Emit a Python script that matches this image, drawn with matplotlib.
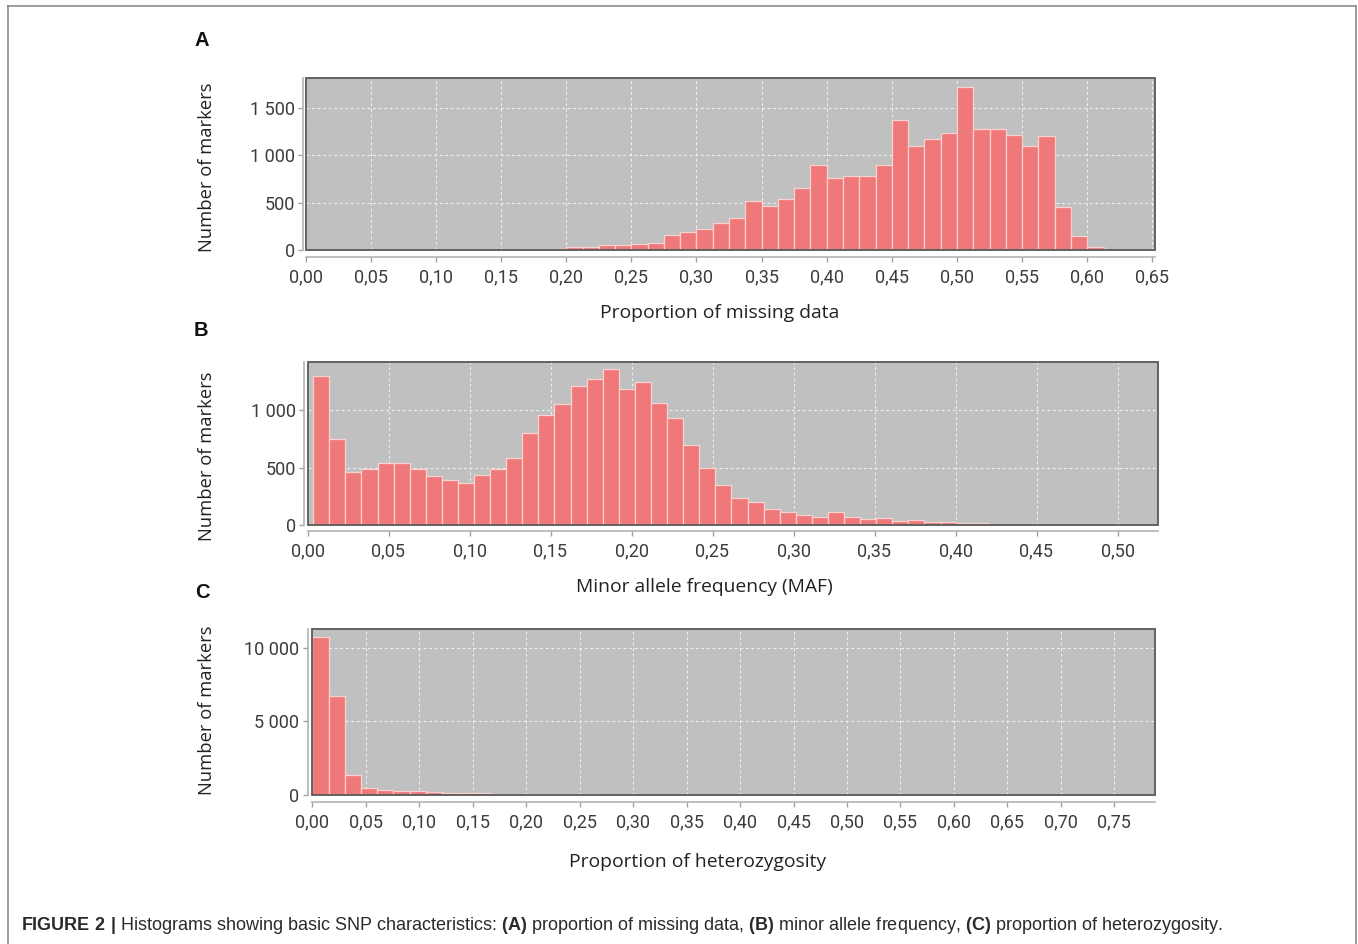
import numpy as np
import matplotlib
matplotlib.use("Agg")
import matplotlib.pyplot as plt
from matplotlib.ticker import FuncFormatter
from matplotlib.lines import Line2D
from matplotlib.patches import Rectangle

# ---- data (counts per histogram bin) ----
missing_bin_start = 0.0
missing_bin_width = 0.0125
missing_counts = [3, 1, 0, 6, 1, 1, 0, 2, 1, 2, 3, 4,
                  5, 15, 15, 15, 30, 28, 50, 50, 60, 75, 160, 185,
                  220, 290, 335, 520, 470, 535, 650, 895, 765, 785, 780, 900,
                  1375, 1095, 1170, 1240, 1725, 1275, 1280, 1220, 1100, 1205,
                  455, 150, 28, 3, 0, 0]

maf_bin_start = 0.0035
maf_bin_width = 0.00993
maf_counts = [1297, 752, 466, 487, 539, 539, 490, 428, 397, 370,
              434, 490, 583, 799, 959, 1058, 1216, 1274, 1359, 1184,
              1245, 1064, 933, 700, 496, 347, 239, 204, 137, 114,
              87, 73, 111, 70, 50, 58, 38, 44, 26, 23,
              17, 15, 12, 12, 12, 9, 9, 12, 9, 9]

het_bin_start = 0.0
het_bin_width = 0.01515
het_counts = [10730, 6700, 1365, 450, 340, 250, 250, 205, 135, 115,
              90, 50, 45, 35, 30, 25, 20, 15, 12, 10,
              8, 6, 5, 4, 3, 3, 2, 2, 2, 1,
              1, 1, 1, 0, 0, 0, 0, 0, 0, 0,
              0, 0, 0, 0, 0, 0, 0, 0, 0, 0, 0, 0]

missing_xticks = [0.00, 0.05, 0.10, 0.15, 0.20, 0.25, 0.30, 0.35, 0.40, 0.45, 0.50, 0.55, 0.60, 0.65]
maf_xticks = [0.00, 0.05, 0.10, 0.15, 0.20, 0.25, 0.30, 0.35, 0.40, 0.45, 0.50]
het_xticks = [0.00, 0.05, 0.10, 0.15, 0.20, 0.25, 0.30, 0.35, 0.40, 0.45, 0.50,
              0.55, 0.60, 0.65, 0.70, 0.75]
missing_yticks = [0, 500, 1000, 1500]
maf_yticks = [0, 500, 1000]
het_yticks = [0, 5000, 10000]

xlabels = ["Proportion of missing data", "Minor allele frequency (MAF)",
           "Proportion of heterozygosity"]
ylabel = "Number of markers"
panel_letters = ["A", "B", "C"]

caption = (r"$\mathbf{FIGURE\ 2\ |}$ Histograms showing basic SNP characteristics: "
           r"$\mathbf{(A)}$ proportion of missing data, $\mathbf{(B)}$ minor allele frequency, "
           r"$\mathbf{(C)}$ proportion of heterozygosity.")

# ---- style ----
W, H = 1358, 944
TICK_FONT = ["Roboto", "DejaVu Sans"]
TITLE_FONT = ["Open Sans", "DejaVu Sans"]
BAR = "#ef7878"
BAR_EDGE = "#fbd2d2"
BG = "#c0c0c0"

plt.rcParams["mathtext.fontset"] = "custom"
plt.rcParams["mathtext.rm"] = "Liberation Sans"
plt.rcParams["mathtext.bf"] = "Liberation Sans:bold"

fig = plt.figure(figsize=(W / 100, H / 100), dpi=100)


def px_axes(left, top, right, bottom):
    return fig.add_axes([left / W, 1 - bottom / H, (right - left) / W, (bottom - top) / H])


def thousands(v, _):
    return f"{int(round(v)):,}".replace(",", " ")


def comma_dec(v, _):
    return f"{v:.2f}".replace(".", ",")


panels = [
    dict(box=(305.7, 77.7, 1155, 250), xmax=0.652, ymax=1821, xoff=7, yoff=2.5,
         start=missing_bin_start, width=missing_bin_width, counts=missing_counts,
         xticks=missing_xticks, yticks=missing_yticks,
         xlab_pos=(720, 313), ylab_pos=(207, 167), letter_pos=(202, 40)),
    dict(box=(307.5, 361.7, 1158, 525), xmax=0.525, ymax=1425, xoff=5.5, yoff=3.5,
         start=maf_bin_start, width=maf_bin_width, counts=maf_counts,
         xticks=maf_xticks, yticks=maf_yticks,
         xlab_pos=(704, 587), ylab_pos=(207, 456), letter_pos=(201, 331)),
    dict(box=(312.3, 629.3, 1155, 794.7), xmax=0.788, ymax=11270, xoff=7, yoff=4.5,
         start=het_bin_start, width=het_bin_width, counts=het_counts,
         xticks=het_xticks, yticks=het_yticks,
         xlab_pos=(698, 862), ylab_pos=(207, 710), letter_pos=(202, 593)),
]

for i, p in enumerate(panels):
    ax = px_axes(*p["box"])
    counts = np.array(p["counts"])
    lefts = p["start"] + p["width"] * np.arange(len(counts))
    ax.set_facecolor(BG)
    ax.bar(lefts, counts, width=p["width"], align="edge", color=BAR,
           edgecolor=BAR_EDGE, linewidth=0.9, zorder=2)
    ax.set_xlim(0, p["xmax"])
    ax.set_ylim(0, p["ymax"])
    ax.set_xticks(p["xticks"])
    ax.set_yticks(p["yticks"])
    ax.xaxis.set_major_formatter(FuncFormatter(comma_dec))
    ax.yaxis.set_major_formatter(FuncFormatter(thousands))
    ax.set_axisbelow(True)
    ax.grid(True, color="#f0f0f0", linestyle=(0, (2.5, 2.5)), linewidth=0.8, zorder=1)
    for s in ("top", "right"):
        ax.spines[s].set_visible(False)
    ax.spines["bottom"].set_position(("outward", p["xoff"] * 0.72))
    ax.spines["left"].set_position(("outward", p["yoff"] * 0.72))
    for s in ("bottom", "left"):
        ax.spines[s].set_color("#b4b4b4")
        ax.spines[s].set_linewidth(1.2)
    ax.add_patch(Rectangle((0, 0), 1, 1, transform=ax.transAxes, fill=False,
                           edgecolor="#585858", linewidth=1.3, zorder=5, clip_on=False))
    ax.tick_params(axis="both", direction="out", length=3.5, width=1, color="#a0a0a0",
                   labelcolor="#3c3c3c", labelsize=13)
    ax.tick_params(axis="x", pad=5)
    ax.tick_params(axis="y", pad=2.5)
    for lab in ax.get_xticklabels() + ax.get_yticklabels():
        lab.set_family(TICK_FONT)

    fig.text(p["xlab_pos"][0] / W, 1 - p["xlab_pos"][1] / H, xlabels[i],
             ha="center", va="center", fontsize=13.9, family=TITLE_FONT, color="#222222")
    fig.text(p["ylab_pos"][0] / W, 1 - p["ylab_pos"][1] / H, ylabel, rotation=90,
             ha="center", va="center", fontsize=13.2, family=TITLE_FONT, color="#222222")
    fig.text(p["letter_pos"][0] / W, 1 - p["letter_pos"][1] / H, panel_letters[i],
             ha="center", va="center", fontsize=14.5, fontweight="bold",
             family=["Liberation Sans", "DejaVu Sans"], color="#111111")

fig.text(21 / W, 1 - 925 / H, caption, ha="left", va="center", fontsize=13,
         family=["Liberation Sans", "DejaVu Sans"], color="#2a2a2a")

# outer frame of the figure panel (open at the bottom)
frame = dict(color="#8c8c8c", linewidth=1.2, transform=fig.transFigure)
fig.add_artist(Line2D([7.5 / W, 1356 / W], [1 - 6 / H, 1 - 6 / H], **frame))
fig.add_artist(Line2D([7.5 / W, 7.5 / W], [1 - 6 / H, 0], **frame))
fig.add_artist(Line2D([1356 / W, 1356 / W], [1 - 6 / H, 0], **frame))

fig.savefig("out.png", dpi=100, facecolor="white")
